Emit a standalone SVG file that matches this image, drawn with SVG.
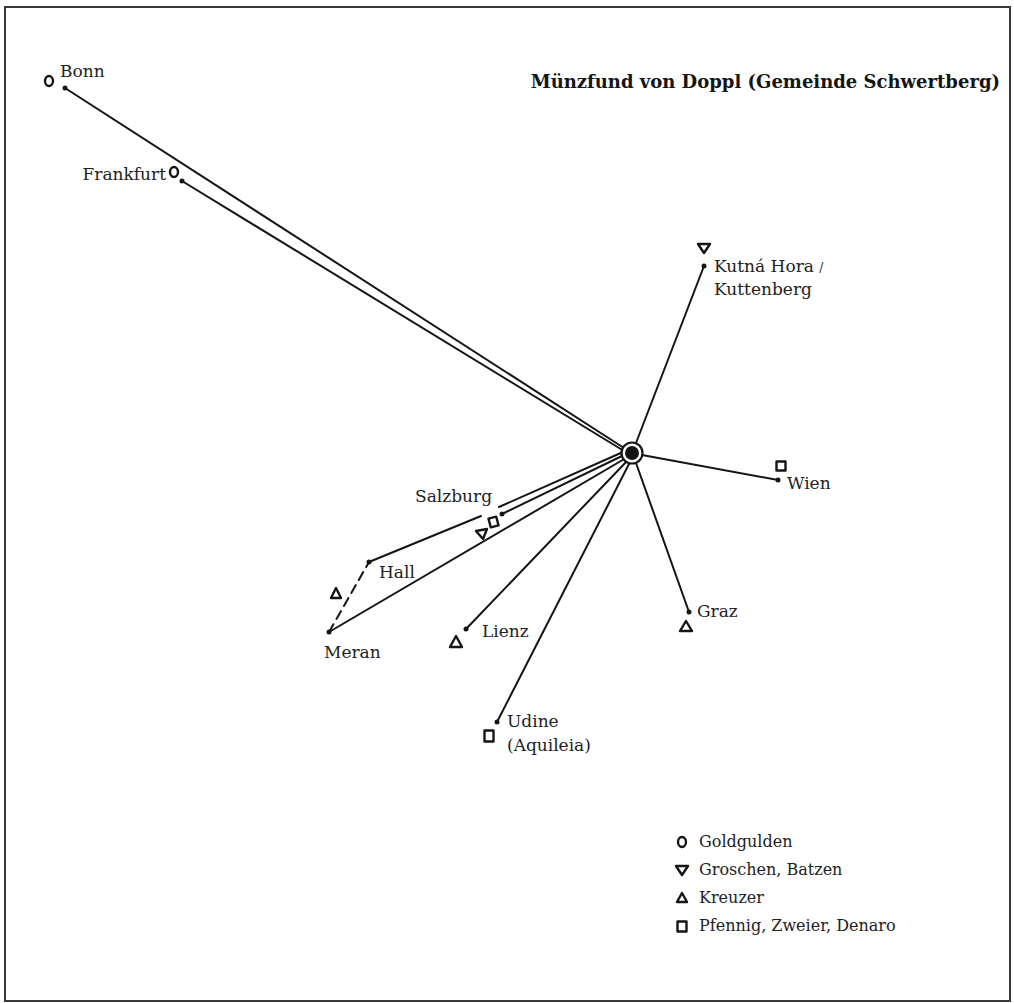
<svg xmlns="http://www.w3.org/2000/svg" width="1014" height="1003" viewBox="0 0 1014 1003">
<style>
  .frame{fill:#fff;stroke:#3a3a3a;stroke-width:2}
  .ln{stroke:#151515;stroke-width:2;fill:none;stroke-linecap:round}
  .dash{stroke-dasharray:9 6}
  .sym{fill:none;stroke:#151515;stroke-width:2.4;stroke-linejoin:round}
  .dot{fill:#151515}
  .lbl{font-family:"DejaVu Serif","Liberation Serif",serif;font-size:17px;fill:#222}
  .leg{font-family:"DejaVu Serif","Liberation Serif",serif;font-size:16px;fill:#222}
  .ttl{font-family:"DejaVu Serif","Liberation Serif",serif;font-size:18px;font-weight:bold;fill:#151515}
</style>
<rect class="frame" x="5" y="7" width="1005" height="994"/>
<text class="ttl" x="1000" y="88" text-anchor="end">Münzfund von Doppl (Gemeinde Schwertberg)</text>

<g id="connectors">
  <line class="ln" x1="65" y1="88" x2="624" y2="448"/>
  <line class="ln" x1="182" y1="181" x2="624" y2="451"/>
  <line class="ln" x1="704" y1="266" x2="636" y2="443"/>
  <line class="ln" x1="778" y1="480" x2="642" y2="455"/>
  <line class="ln" x1="689" y1="612" x2="636" y2="463"/>
  <line class="ln" x1="497" y1="722" x2="630" y2="462"/>
  <line class="ln" x1="466" y1="629" x2="628" y2="460"/>
  <line class="ln" x1="329" y1="632" x2="626" y2="458"/>
  <line class="ln" x1="502" y1="514" x2="624" y2="455"/>
  <line class="ln" x1="369" y1="562" x2="481" y2="516"/>
  <line class="ln" x1="499" y1="507" x2="623" y2="452"/>
  <line class="ln dash" x1="329" y1="632" x2="369" y2="562"/>
</g>

<g id="hub">
  <circle cx="632" cy="453" r="10.5" fill="#fff" stroke="#151515" stroke-width="2.2"/>
  <circle cx="632" cy="453" r="7" fill="#151515"/>
</g>

<g id="bonn">
  <circle class="dot" cx="65" cy="88" r="2.5"/>
  <ellipse class="sym" cx="49" cy="81" rx="4" ry="5"/>
  <text class="lbl" x="60" y="77">Bonn</text>
</g>
<g id="frankfurt">
  <circle class="dot" cx="182" cy="181" r="2.5"/>
  <ellipse class="sym" cx="174" cy="172" rx="4" ry="5"/>
  <text class="lbl" x="166" y="180" text-anchor="end">Frankfurt</text>
</g>
<g id="kutna-hora">
  <circle class="dot" cx="704" cy="266" r="2.5"/>
  <polygon class="sym" points="698,244 710,244 704,253"/>
  <text class="lbl" x="714" y="272">Kutná Hora <tspan font-size="12">/</tspan></text>
  <text class="lbl" x="714" y="295">Kuttenberg</text>
</g>
<g id="wien">
  <circle class="dot" cx="778" cy="480" r="2.5"/>
  <rect class="sym" x="776.5" y="461.5" width="9" height="9"/>
  <text class="lbl" x="787" y="489">Wien</text>
</g>
<g id="graz">
  <circle class="dot" cx="689" cy="612" r="2.5"/>
  <polygon class="sym" points="686,621 680,631 692,631"/>
  <text class="lbl" x="697" y="617">Graz</text>
</g>
<g id="udine">
  <circle class="dot" cx="497" cy="722" r="2.5"/>
  <rect class="sym" x="484.5" y="730.5" width="9" height="11"/>
  <text class="lbl" x="507" y="727">Udine</text>
  <text class="lbl" x="507" y="751">(Aquileia)</text>
</g>
<g id="lienz">
  <circle class="dot" cx="466" cy="629" r="2.5"/>
  <polygon class="sym" points="456,636 450,647 462,647"/>
  <text class="lbl" x="482" y="637">Lienz</text>
</g>
<g id="meran">
  <circle class="dot" cx="329" cy="632" r="2.5"/>
  <text class="lbl" x="324" y="658">Meran</text>
</g>
<g id="hall">
  <circle class="dot" cx="369" cy="562" r="2.5"/>
  <polygon class="sym" points="336,588 331,598 341,598"/>
  <text class="lbl" x="379" y="578">Hall</text>
</g>
<g id="salzburg">
  <circle class="dot" cx="502" cy="514" r="2.5"/>
  <rect class="sym" x="489.5" y="517.5" width="8" height="9" transform="rotate(-15 493.5 522)"/>
  <polygon class="sym" points="476,531 487,529 483,539"/>
  <text class="lbl" x="415" y="502">Salzburg</text>
</g>

<g id="legend">
  <ellipse class="sym" cx="682" cy="842" rx="4" ry="5"/>
  <text class="leg" x="699" y="847">Goldgulden</text>
  <polygon class="sym" points="676,866 688,866 682,875"/>
  <text class="leg" x="699" y="875">Groschen, Batzen</text>
  <polygon class="sym" points="682,893 677,902 687,902"/>
  <text class="leg" x="699" y="903">Kreuzer</text>
  <rect class="sym" x="677.5" y="921.5" width="9" height="10"/>
  <text class="leg" x="699" y="931">Pfennig, Zweier, Denaro</text>
</g>
</svg>
